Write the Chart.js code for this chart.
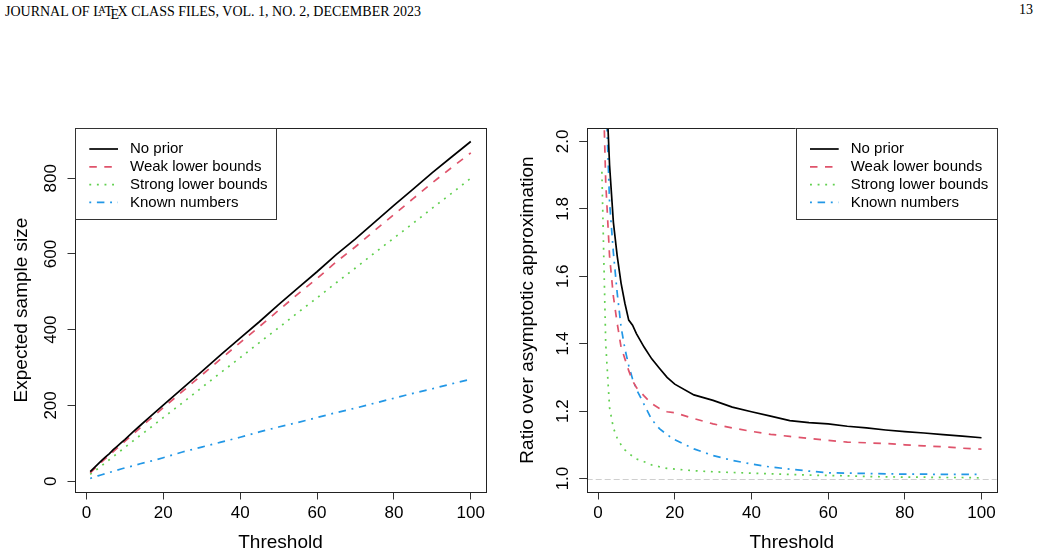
<!DOCTYPE html>
<html>
<head>
<meta charset="utf-8">
<script src="https://cdn.jsdelivr.net/npm/chart.js@4.4.0/dist/chart.umd.min.js"></script>
<style>
html,body{margin:0;padding:0;background:#fff;}
#wrap{position:relative;width:1041px;height:557px;overflow:hidden;background:#fff;}
canvas{position:absolute;left:0;top:0;}
.hdr{position:absolute;top:2px;font-family:'Liberation Serif','Times New Roman',serif;font-size:14px;line-height:16px;color:#000;white-space:nowrap;}
#hl{left:5px;}
#hr{right:8px;}
.la{font-size:0.72em;vertical-align:0.28em;margin-left:-0.34em;margin-right:-0.14em;}
.le{vertical-align:-0.45ex;margin-left:-0.16em;margin-right:-0.11em;}
</style>
</head>
<body>
<div id="wrap">
  <div class="hdr" id="hl">JOURNAL OF L<span class="la">A</span>T<span class="le">E</span>X CLASS FILES, VOL. 1, NO. 2, DECEMBER 2023</div>
  <div class="hdr" id="hr">13</div>
  <canvas id="cL" width="1041" height="557"></canvas>
  <canvas id="cR" width="1041" height="557"></canvas>
</div>
<script>
// ---------- data ----------
const thresholds = [1,2,3,4,5,6,7,8,9,10,12,14,16,18,20,25,30,35,40,45,50,55,60,65,70,75,80,85,90,95,100];

const seriesNames = ['No prior', 'Weak lower bounds', 'Strong lower bounds', 'Known numbers'];

// Left panel: expected sample size
const sizeNoPrior = [25,35,45,55,64,73,83,92,101,110,129,147,165,183,201,245,289,334,378,421,466,510,553,598,640,684,728,771,815,856,897];
const sizeWeak    = [22,32,41,51,60,69,78,87,96,105,123,141,159,176,194,237,280,323,366,408,451,494,535,579,619,662,704,746,788,828,867];
const sizeStrong  = [18,26,33,41,49,57,65,73,81,89,105,121,136,152,168,207,247,287,326,366,405,445,484,524,563,603,642,681,721,760,800];
const sizeKnown   = [7,11,14,17,20,23,26,29,32,35,40,46,51,56,62,77,90,103,116,130,143,155,168,181,193,206,219,232,244,257,269];

// Right panel: ratio over asymptotic approximation
const ratioNoPrior = [3.2,2.2,1.93,1.76,1.66,1.58,1.52,1.47,1.455,1.43,1.39,1.355,1.327,1.30,1.28,1.248,1.232,1.212,1.198,1.185,1.172,1.166,1.162,1.155,1.15,1.144,1.139,1.135,1.13,1.126,1.121];
const ratioWeak    = [2.3,1.88,1.66,1.54,1.46,1.39,1.355,1.32,1.29,1.27,1.245,1.222,1.208,1.198,1.195,1.178,1.162,1.15,1.14,1.131,1.125,1.119,1.113,1.108,1.106,1.104,1.1,1.097,1.094,1.09,1.087];
const ratioStrong  = [1.91,1.40,1.21,1.15,1.12,1.10,1.085,1.075,1.066,1.058,1.05,1.04,1.035,1.03,1.028,1.023,1.02,1.018,1.016,1.014,1.012,1.01,1.009,1.008,1.006,1.005,1.004,1.004,1.003,1.003,1.002];
const ratioKnown   = [3.0,2.15,1.82,1.67,1.55,1.45,1.385,1.335,1.295,1.265,1.22,1.175,1.148,1.13,1.115,1.088,1.068,1.054,1.043,1.034,1.028,1.022,1.017,1.016,1.015,1.014,1.013,1.013,1.012,1.012,1.012];

const xTickValues = [0,20,40,60,80,100];
const yTickValuesLeft = [0,200,400,600,800];
const yTickLabelsLeft = ['0','200','400','600','800'];
const yTickValuesRight = [1.0,1.2,1.4,1.6,1.8,2.0];
const yTickLabelsRight = ['1.0','1.2','1.4','1.6','1.8','2.0'];
const referenceRatio = 1;

// ---------- styles ----------
const seriesColors = ['#000000','#DF536B','#61D04F','#2297E6'];
const seriesDash = [[], [7.5,7.5], [1.9,5.7], [1.9,5.7,7.5,5.7]];
const LW = 1.7;
const FONT = "'Liberation Sans', Arial, Helvetica, sans-serif";
Chart.defaults.font.family = FONT;
Chart.defaults.color = '#000';

const rPlugin = {
  id: 'rstyle',
  beforeDatasetsDraw(chart, args, o) {
    if (o.refLine == null) return;
    const {ctx, chartArea: a, scales: {y}} = chart;
    const py = Math.round(y.getPixelForValue(o.refLine)) + 0.5;
    ctx.save();
    ctx.strokeStyle = '#cfcfcf'; ctx.lineWidth = 1; ctx.setLineDash([6,3]);
    ctx.beginPath(); ctx.moveTo(a.left, py); ctx.lineTo(a.right, py); ctx.stroke();
    ctx.restore();
  },
  afterDraw(chart, args, o) {
    const {ctx, chartArea: a, scales: {y}} = chart;
    ctx.save();
    // plot box
    ctx.strokeStyle = '#222'; ctx.lineWidth = 1; ctx.setLineDash([]);
    ctx.strokeRect(Math.round(a.left)+0.5, Math.round(a.top)+0.5, Math.round(a.right-a.left), Math.round(a.bottom-a.top));
    // rotated y tick labels
    ctx.fillStyle = '#000';
    ctx.font = '17px ' + FONT;
    ctx.textAlign = 'center'; ctx.textBaseline = 'middle';
    y.ticks.forEach((t, i) => {
      const py = y.getPixelForValue(t.value);
      ctx.save();
      ctx.translate(a.left - 23.5, py);
      ctx.rotate(-Math.PI/2);
      ctx.fillText(o.yLabels[i], 0, 0);
      ctx.restore();
    });
    // legend
    const W = 201, H = 91.3;
    const x0 = o.legendCorner === 'right' ? a.right - W : a.left;
    const y0 = a.top;
    ctx.fillStyle = '#fff';
    ctx.fillRect(x0, y0, W, H);
    ctx.strokeStyle = '#333'; ctx.lineWidth = 1;
    ctx.strokeRect(Math.round(x0)+0.5, Math.round(y0)+0.5, Math.round(W), Math.round(H));
    ctx.font = '15px ' + FONT;
    ctx.textAlign = 'left'; ctx.textBaseline = 'middle';
    chart.data.datasets.forEach((ds, i) => {
      const ry = y0 + 21 + i*17.8;
      ctx.strokeStyle = ds.borderColor; ctx.lineWidth = ds.borderWidth;
      ctx.setLineDash(ds.borderDash || []);
      ctx.beginPath(); ctx.moveTo(x0 + 14.3, ry); ctx.lineTo(x0 + 43, ry); ctx.stroke();
      ctx.setLineDash([]);
      ctx.fillStyle = '#000';
      ctx.fillText(ds.label, x0 + 55, ry);
    });
    ctx.restore();
  }
};

function buildDatasets(valueArrays) {
  return valueArrays.map((vals, i) => ({
    label: seriesNames[i],
    data: thresholds.map((t, j) => ({x: t, y: vals[j]})),
    borderColor: seriesColors[i],
    borderWidth: LW,
    borderDash: seriesDash[i],
    pointRadius: 0,
    tension: 0,
    fill: false,
    borderCapStyle: 'butt'
  }));
}

function makeChart(id, cfg) {
  return new Chart(document.getElementById(id), {
    type: 'line',
    data: { datasets: buildDatasets(cfg.values) },
    options: {
      responsive: false, animation: false, devicePixelRatio: 1,
      events: [],
      layout: { padding: { left: cfg.padLeft, right: cfg.padRight, top: 128, bottom: 0 } },
      plugins: {
        legend: { display: false }, tooltip: { enabled: false },
        rstyle: { yLabels: cfg.yLabels, legendCorner: cfg.legendCorner, refLine: cfg.refLine }
      },
      scales: {
        x: {
          type: 'linear', min: -2.96, max: 103.96,
          afterBuildTicks: s => { s.ticks = xTickValues.map(v => ({value: v})); },
          afterFit: s => { s.height = 65; },
          grid: { display: true, drawOnChartArea: false, drawTicks: true, tickLength: 7.5, tickColor: '#333', tickWidth: 1 },
          border: { display: false },
          ticks: { font: { size: 17 }, color: '#000', padding: 3.3, maxRotation: 0, minRotation: 0, autoSkip: false },
          title: { display: true, text: 'Threshold', font: { size: 19 }, color: '#000', padding: { top: 0, bottom: 2.9 } }
        },
        y: {
          type: 'linear', min: cfg.yMin, max: cfg.yMax,
          afterBuildTicks: s => { s.ticks = cfg.yTicks.map(v => ({value: v})); },
          afterFit: s => { s.width = cfg.yWidth; },
          grid: { display: true, drawOnChartArea: false, drawTicks: true, tickLength: 7.5, tickColor: '#333', tickWidth: 1 },
          border: { display: false },
          ticks: { display: false },
          title: { display: true, text: cfg.yTitle, font: { size: 19 }, color: '#000', padding: { top: 10.1, bottom: 0 } }
        }
      }
    },
    plugins: [rPlugin]
  });
}

makeChart('cL', {
  values: [sizeNoPrior, sizeWeak, sizeStrong, sizeKnown],
  padLeft: 0, padRight: 1041 - 486, yWidth: 75,
  yMin: -28.6, yMax: 932.6, yTicks: yTickValuesLeft, yLabels: yTickLabelsLeft,
  yTitle: 'Expected sample size', legendCorner: 'left', refLine: null
});
makeChart('cR', {
  values: [ratioNoPrior, ratioWeak, ratioStrong, ratioKnown],
  padLeft: 506.5, padRight: 1041 - 996.7, yWidth: 80.2,
  yMin: 0.96, yMax: 2.04, yTicks: yTickValuesRight, yLabels: yTickLabelsRight,
  yTitle: 'Ratio over asymptotic approximation', legendCorner: 'right', refLine: referenceRatio
});
</script>
</body>
</html>
